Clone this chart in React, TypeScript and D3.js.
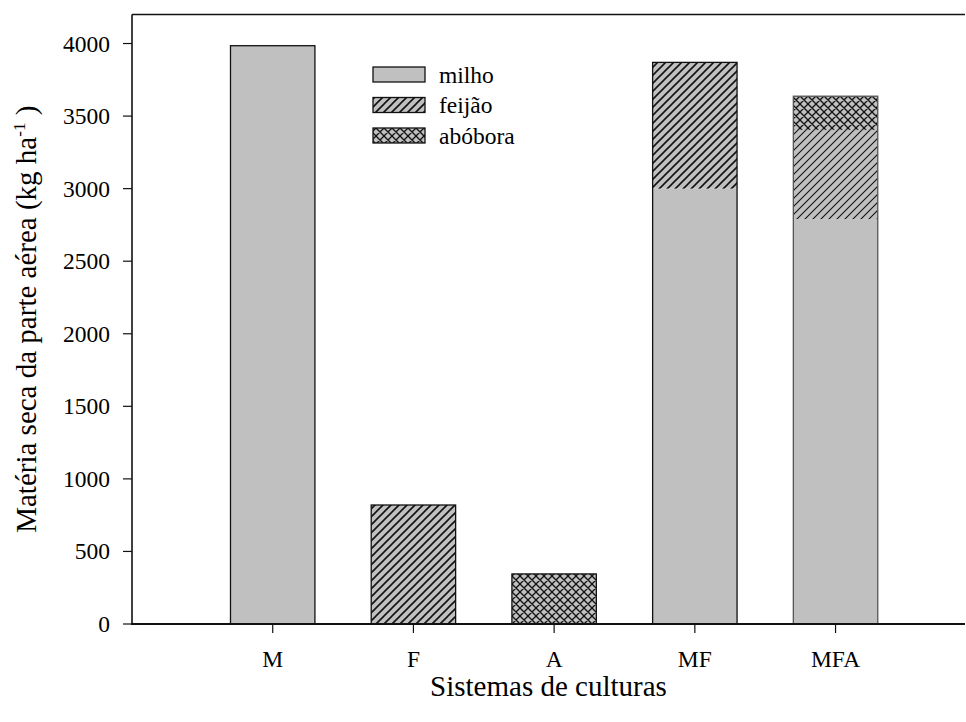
import React, { useEffect, useRef } from 'react';
import * as d3 from 'd3';

const categories = ['M', 'F', 'A', 'MF', 'MFA'];
const milho = [3985, 0, 0, 3000, 2790];
const feijao = [0, 820, 0, 870, 615];
const abobora = [0, 0, 345, 0, 232];
const seriesNames = ['milho', 'feijão', 'abóbora'];
const yTicks = [0, 500, 1000, 1500, 2000, 2500, 3000, 3500, 4000];

const W = 966;
const H = 722;

const App: React.FC = () => {
  const svgRef = useRef<SVGSVGElement>(null);

  useEffect(() => {
    if (!svgRef.current) return;
    const svg = d3.select(svgRef.current);
    svg.selectAll('*').remove();

    const left = 132, right = 965, top = 14.5, bottom = 624;

    // patterns
    const defs = svg.append('defs');
    const hatch = (id: string, sw: number) => {
      const p = defs.append('pattern').attr('id', id)
        .attr('patternUnits', 'userSpaceOnUse').attr('width', 8).attr('height', 8);
      p.append('rect').attr('width', 8).attr('height', 8).attr('fill', '#c0c0c0');
      p.append('path').attr('d', 'M0,8 L8,0 M-2,2 L2,-2 M6,10 L10,6')
        .attr('stroke', '#111').attr('stroke-width', sw);
    };
    hatch('hatch', 1.6);
    hatch('hatchThin', 1.1);
    const cross = defs.append('pattern').attr('id', 'cross')
      .attr('patternUnits', 'userSpaceOnUse').attr('width', 8).attr('height', 8);
    cross.append('rect').attr('width', 8).attr('height', 8).attr('fill', '#c0c0c0');
    cross.append('path').attr('d', 'M0,8 L8,0 M-2,2 L2,-2 M6,10 L10,6 M0,0 L8,8 M-2,6 L2,10 M6,-2 L10,2')
      .attr('stroke', '#111').attr('stroke-width', 1.3);

    const fills = ['#c0c0c0', 'url(#hatch)', 'url(#cross)'];

    const x = d3.scaleLinear().domain([0, 5.92]).range([left, right]);
    const y = d3.scaleLinear().domain([0, 4200]).range([bottom, top]);
    const bw = x(0.6) - x(0);

    const rows = categories.map((c, i) => ({ cat: c, i, milho: milho[i], feijao: feijao[i], abobora: abobora[i] }));
    const stack = d3.stack<any>().keys(['milho', 'feijao', 'abobora']);
    const layers = stack(rows);

    const g = svg.append('g');
    layers.forEach((layer, li) => {
      g.selectAll(null)
        .data(layer.filter(d => d[1] - d[0] > 0))
        .enter()
        .append('rect')
        .attr('x', d => x(d.data.i + 1) - bw / 2)
        .attr('y', d => y(d[1]))
        .attr('width', bw)
        .attr('height', d => y(d[0]) - y(d[1]))
        .attr('fill', d => (li === 1 && d.data.cat === 'MFA' ? 'url(#hatchThin)' : fills[li]));
    });

    // bar outlines
    g.selectAll('.outline')
      .data(rows)
      .enter()
      .append('rect')
      .attr('x', d => x(d.i + 1) - bw / 2)
      .attr('y', d => y(d.milho + d.feijao + d.abobora))
      .attr('width', bw)
      .attr('height', d => bottom - y(d.milho + d.feijao + d.abobora))
      .attr('fill', 'none')
      .attr('stroke', d => (d.cat === 'MFA' ? '#555' : '#111'))
      .attr('stroke-width', 1.3);

    // frame lines
    svg.append('line').attr('x1', left).attr('x2', right).attr('y1', top).attr('y2', top)
      .attr('stroke', '#111').attr('stroke-width', 1.5);
    svg.append('line').attr('x1', left).attr('x2', left).attr('y1', top).attr('y2', bottom)
      .attr('stroke', '#111').attr('stroke-width', 1.6);
    svg.append('line').attr('x1', left - 1).attr('x2', right).attr('y1', bottom).attr('y2', bottom)
      .attr('stroke', '#111').attr('stroke-width', 2.2);

    // Y axis ticks
    const yt = svg.append('g');
    yt.selectAll('line').data(yTicks).enter().append('line')
      .attr('x1', left - 9).attr('x2', left).attr('y1', d => y(d)).attr('y2', d => y(d))
      .attr('stroke', '#111').attr('stroke-width', 1.2);
    yt.selectAll('text').data(yTicks).enter().append('text')
      .attr('x', 110).attr('y', d => y(d)).attr('dy', '0.34em')
      .attr('text-anchor', 'end').attr('font-size', 23.5)
      .text(d => String(d));

    // X axis ticks
    const xt = svg.append('g');
    xt.selectAll('line').data(categories).enter().append('line')
      .attr('x1', (d, i) => x(i + 1)).attr('x2', (d, i) => x(i + 1))
      .attr('y1', bottom).attr('y2', bottom + 9)
      .attr('stroke', '#111').attr('stroke-width', 1.2);
    xt.selectAll('text').data(categories).enter().append('text')
      .attr('x', (d, i) => x(i + 1)).attr('y', 667)
      .attr('text-anchor', 'middle').attr('font-size', 23.5)
      .text(d => d);

    // axis titles
    svg.append('text')
      .attr('x', (left + right) / 2).attr('y', 696)
      .attr('text-anchor', 'middle').attr('font-size', 29)
      .text('Sistemas de culturas');

    const yl = svg.append('text')
      .attr('transform', `translate(36,${(top + bottom) / 2}) rotate(-90)`)
      .attr('text-anchor', 'middle').attr('font-size', 29);
    yl.append('tspan').text('Matéria seca da parte aérea (kg ha');
    yl.append('tspan').attr('dy', -11).attr('font-size', 17).text('-1');
    yl.append('tspan').attr('dy', 11).text(' )');

    // legend
    const lg = svg.append('g');
    seriesNames.forEach((name, i) => {
      const yy = 67 + i * 30.5;
      lg.append('rect').attr('x', 373).attr('y', yy).attr('width', 52).attr('height', 15)
        .attr('fill', fills[i]).attr('stroke', '#111').attr('stroke-width', 1.3);
      lg.append('text').attr('x', 439).attr('y', yy + 7.5).attr('dy', '0.35em')
        .attr('font-size', 23.5).text(name);
    });
  }, []);

  return (
    <svg
      ref={svgRef}
      width={W}
      height={H}
      fontFamily={'"Liberation Serif", "Times New Roman", serif'}
      style={{ position: 'absolute', left: 0, top: 0, background: '#fff' }}
    />
  );
};

export default App;
